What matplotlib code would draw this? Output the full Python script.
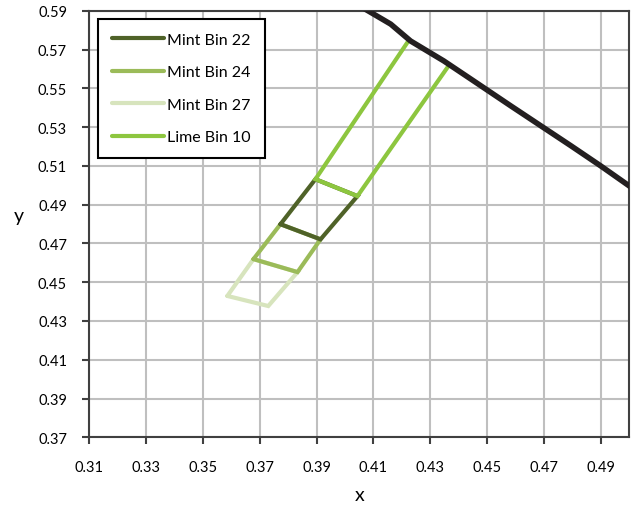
import matplotlib.pyplot as plt
import numpy as np

plt.rcParams['font.family'] = ['Lato', 'DejaVu Sans']

# boundary curve (black)
curve_x = [0.4075, 0.4161, 0.4231, 0.4348, 0.4453, 0.4584, 0.4690, 0.4796, 0.4901, 0.5005]
curve_y = [0.5905, 0.5831, 0.5744, 0.5641, 0.5538, 0.5409, 0.5306, 0.5203, 0.5099, 0.4992]

# bin outlines
lime10_x = [0.4221, 0.3896, 0.4044, 0.4362]
lime10_y = [0.5739, 0.5031, 0.4944, 0.5610]
mint22_x = [0.3773, 0.3896, 0.4044, 0.3914, 0.3773]
mint22_y = [0.4799, 0.5031, 0.4944, 0.4721, 0.4799]
mint24_x = [0.3678, 0.3773, 0.3914, 0.3833, 0.3678]
mint24_y = [0.4619, 0.4799, 0.4721, 0.4552, 0.4619]
mint27_x = [0.3586, 0.3678, 0.3833, 0.3730, 0.3586]
mint27_y = [0.4429, 0.4619, 0.4552, 0.4377, 0.4429]

fig = plt.figure(figsize=(6.32, 5.10), dpi=100)
ax = fig.add_axes([0.1413, 0.1406, 0.8540, 0.8364])

lw = 3.0
kw = dict(lw=lw, solid_joinstyle='miter', solid_capstyle='round')
ax.plot(mint27_x, mint27_y, color='#D7E4BD', label='Mint Bin 27', zorder=3, **kw)
ax.plot(mint24_x, mint24_y, color='#9BBB59', label='Mint Bin 24', zorder=4, **kw)
ax.plot(mint22_x, mint22_y, color='#4F6228', label='Mint Bin 22', zorder=5, **kw)
ax.plot(lime10_x, lime10_y, color='#8DC63F', label='Lime Bin 10', zorder=6, **kw)
ax.plot(curve_x, curve_y, color='#231F20', lw=4.0, zorder=7)

ax.set_xlim(0.31, 0.50)
ax.set_ylim(0.37, 0.59)
ax.set_xticks(np.arange(0.31, 0.495, 0.02))
ax.set_yticks(np.arange(0.37, 0.595, 0.02))
ax.set_xticklabels([f'{v:.2f}' for v in np.arange(0.31, 0.495, 0.02)])
ax.set_yticklabels([f'{v:.2f}' for v in np.arange(0.37, 0.595, 0.02)])
ax.grid(True, color='#BFBFBF', lw=1.5)
ax.set_axisbelow(True)
ax.tick_params(direction='out', length=5, width=1.5, color='#404040', labelsize=10.5, pad=11)
for s in ax.spines.values():
    s.set_color('#404040')
    s.set_linewidth(1.5)

ax.set_xlabel('x', fontsize=14, labelpad=9)
ax.set_ylabel('y', fontsize=14, rotation=0, labelpad=14)

h, l = ax.get_legend_handles_labels()
order = [2, 1, 0, 3]
leg = ax.legend([h[i] for i in order], [l[i] for i in order],
                loc='upper left', bbox_to_anchor=(0.016, 0.981), borderaxespad=0,
                fontsize=11.5, handlelength=3.3, handletextpad=0.2,
                labelspacing=1.15, fancybox=False, framealpha=1, borderpad=0.85)
leg.get_frame().set_edgecolor('black')
leg.get_frame().set_linewidth(1.5)

fig.savefig('out.png', dpi=100)
